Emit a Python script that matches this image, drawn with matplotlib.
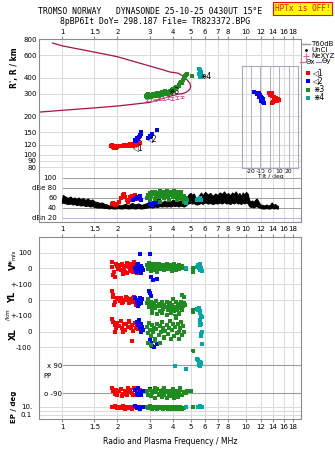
import matplotlib
matplotlib.use('Agg')
import matplotlib.pyplot as plt
from matplotlib.lines import Line2D
from matplotlib.ticker import NullLocator

plt.rcParams['font.family'] = ['DejaVu Sans']

# ------------------------------------------------------------------ data
freq_ticks = [1, 1.5, 2, 3, 4, 5, 6, 7, 8, 10, 12, 14, 16, 18]
freq_ticks_mid = [1, 1.5, 2, 3, 4, 5, 6, 7, 8, 9, 10, 12, 14, 16, 18]
rng_ticks = [800, 600, 400, 300, 200, 150, 120, 100, 90, 80]
db_ticks = [100, 80, 60, 40, 20]
db_labels = ['100', 'dBe 80', '60', '40', 'dBn 20']

# model range curve (upper branch -> loop -> lower branch)
curve_f = [0.89, 1.0, 1.5, 2.0, 3.0, 3.5, 3.86, 4.1, 4.29, 4.5, 4.66, 4.85, 4.96, 5.0, 4.95, 4.86, 4.72, 4.56, 4.2, 3.86, 3.0, 2.0, 1.5, 1.0, 0.75]
curve_r = [744, 708, 632, 582, 492, 462, 442, 437, 432, 415, 399, 375, 360, 339, 325, 316, 307, 301, 295, 286, 256, 240, 232, 222, 215]

# NeXYZ markers
nexyz_f = [2.9, 3.05, 3.2, 3.4, 3.6, 3.75, 3.95, 4.2, 4.47]
nexyz_r = [268, 270, 268, 272, 274, 276, 275, 280, 283]

# echo clusters, virtual range R'
r1_f = [1.85, 1.87, 1.9, 1.92, 1.95, 1.97, 2.0, 2.05, 2.1, 2.13, 2.17, 2.2, 2.24, 2.28, 2.3, 2.33, 2.36, 2.4, 2.43, 2.46, 2.5, 2.53, 2.56, 2.6, 2.63, 2.65, 2.48, 2.38]
r1_r = [117, 119, 115, 113, 116, 112, 114, 117, 118, 116, 119, 117, 118, 120, 117, 121, 119, 122, 118, 121, 123, 120, 125, 122, 126, 124, 119, 116]
r2_f = [2.48, 2.5, 2.52, 2.55, 2.57, 2.6, 2.62, 2.64, 2.66, 2.68, 2.7, 2.95, 3.0, 3.02, 3.05, 3.08, 3.3]
r2_r = [127, 130, 128, 132, 135, 133, 138, 142, 140, 146, 150, 135, 138, 141, 140, 144, 157]
r3_f = [2.85, 2.88, 2.9, 2.95, 3.0, 3.05, 3.1, 3.15, 3.2, 3.25, 3.3, 3.35, 3.4, 3.45, 3.5, 3.55, 3.6, 3.65, 3.7, 3.75, 3.8, 3.85, 3.9, 3.95, 4.0, 4.05, 4.1, 4.15, 4.2, 4.3, 4.35, 4.4, 4.45, 4.5, 4.55, 4.6, 4.65, 4.7, 4.75, 5.1, 2.92, 3.12, 3.28, 3.48, 3.62]
r3_r = [285, 292, 280, 288, 295, 284, 290, 298, 286, 292, 300, 289, 296, 303, 292, 300, 306, 296, 310, 300, 308, 315, 305, 318, 325, 312, 330, 340, 335, 350, 345, 360, 372, 365, 385, 395, 410, 420, 430, 410, 298, 300, 302, 306, 312]
r4_f = [5.55, 5.6, 5.65, 5.58, 5.72, 5.62, 5.78, 5.7]
r4_r = [470, 455, 440, 425, 410, 405, 415, 445]

# echo labels (trace centres)
lab_txt = ['\u25c11', '\u25c12', '\u22c73', '\u22c74']
lab_f = [2.44, 2.89, 3.78, 5.63]
lab_r = [114, 134, 314, 407]

# tilt inset (tilt deg, relative height)
t1_x = [-0.7, 2.8, 0.7, 2.8, 4.6, 7.0, 9.1, 9.8, 7.7, 5.3, 3.5, 2.8, 1.5, 6.0, 8.5, 4.0]
t1_h = [73.2, 73.2, 71.6, 70.6, 69.3, 68.3, 67.6, 66.7, 66.0, 65.7, 64.7, 63.4, 72.4, 68.8, 66.2, 65.2]
t2_x = [-16.5, -14, -11.3, -12.3, -10.5, -8.8, -11.3, -9.8, -7.7, -8.8, -7.0, -6.3, -13.0, -10.0, -8.0]
t2_h = [74.2, 73.8, 73.2, 72.3, 71.3, 69.9, 69.3, 68.3, 67.4, 66.0, 65.0, 64.0, 72.8, 70.5, 68.9]

# noise level (black band) in dB
noise_f = [1.00, 1.01, 1.03, 1.05, 1.08, 1.11, 1.14, 1.17, 1.20, 1.23, 1.26, 1.30, 1.34, 1.38, 1.42, 1.46, 1.50, 1.55, 1.60, 1.65, 1.70, 1.75, 1.80, 1.85, 1.90, 1.95, 2.00, 2.10, 2.20, 2.30, 2.40, 2.50, 2.60, 2.70, 2.80, 2.90, 3.00, 3.10, 3.20, 3.30, 3.40, 3.50, 3.60, 3.70, 3.80, 3.90, 4.00, 4.10, 4.20, 4.30, 4.40, 4.50, 4.60, 4.70, 4.80, 4.90, 5.00, 5.10, 5.20, 5.30, 5.40, 5.50, 5.60, 5.70, 5.80, 5.90, 6.00, 6.20, 6.40, 6.60, 6.80, 7.00, 7.20, 7.40, 7.60, 7.80, 8.00, 8.20, 8.40, 8.60, 8.80, 9.00, 9.20, 9.40, 9.60, 9.80, 10.0, 10.2, 10.4, 10.6, 10.8, 11.0, 11.2, 11.4, 11.6, 11.8, 12.0, 12.3, 12.6, 12.9, 13.2, 13.5, 13.8, 14.1, 14.4, 14.7, 14.9]
noise_hi = [56, 66, 64, 62, 60, 63, 59, 61, 58, 61, 57, 60, 56, 59, 55, 57, 53, 52, 50, 51, 48, 47, 45, 46, 44, 45, 47, 45, 48, 46, 50, 47, 49, 46, 48, 50, 52, 49, 53, 50, 54, 51, 55, 52, 56, 53, 57, 54, 56, 53, 57, 55, 52, 58, 64, 68, 70, 66, 69, 62, 60, 63, 67, 71, 65, 69, 72, 67, 70, 64, 69, 66, 71, 68, 73, 67, 70, 65, 71, 68, 73, 66, 70, 64, 71, 67, 72, 69, 56, 53, 55, 52, 56, 59, 55, 50, 47, 46, 45, 47, 45, 46, 51, 46, 48, 45, 44]
noise_lo = [50, 51, 50, 49, 48, 49, 47, 48, 46, 47, 45, 46, 44, 45, 43, 44, 42, 41, 41, 41, 40, 40, 39, 40, 39, 39, 40, 39, 40, 39, 40, 39, 40, 39, 40, 41, 42, 41, 43, 42, 44, 43, 44, 43, 44, 43, 45, 44, 45, 43, 45, 44, 43, 45, 48, 50, 50, 49, 50, 48, 47, 48, 49, 51, 48, 50, 51, 49, 50, 48, 50, 49, 51, 49, 52, 49, 50, 48, 51, 49, 52, 49, 50, 48, 51, 49, 51, 50, 44, 42, 43, 41, 43, 44, 42, 41, 40, 39, 39, 40, 39, 39, 41, 39, 40, 39, 39]

# echo amplitudes (dB)
a1_f = [1.86, 1.9, 1.94, 1.98, 2.05, 2.1, 2.15, 2.2, 2.25, 2.3, 2.35, 2.4, 2.45, 2.5, 2.55, 2.6, 2.18, 2.28, 2.42, 2.52]
a1_db = [47, 49, 46, 48, 52, 60, 66, 63, 57, 55, 62, 65, 60, 67, 58, 63, 68, 52, 55, 61]
a2_f = [2.42, 2.48, 2.55, 2.6, 2.65, 2.7, 3.0, 3.05, 3.1, 3.2, 3.3, 3.35]
a2_db = [55, 58, 62, 60, 64, 57, 47, 50, 45, 52, 49, 55]
a3_f = [2.9, 2.95, 3.0, 3.05, 3.1, 3.15, 3.2, 3.25, 3.3, 3.35, 3.4, 3.45, 3.5, 3.55, 3.6, 3.65, 3.7, 3.75, 3.8, 3.85, 3.9, 3.95, 4.0, 4.05, 4.1, 4.15, 4.2, 4.25, 4.3, 4.35, 4.4, 4.45, 4.5, 4.6, 4.7, 4.8, 3.0, 3.2, 3.4, 3.6, 3.8, 4.0, 4.2, 4.4, 4.6]
a3_db = [60, 66, 70, 64, 72, 68, 73, 66, 71, 62, 74, 69, 65, 72, 70, 67, 74, 63, 71, 68, 73, 66, 70, 75, 64, 71, 68, 73, 62, 69, 66, 72, 58, 64, 60, 55, 55, 58, 52, 60, 57, 62, 55, 60, 52]
a4_f = [4.7, 5.45, 5.5, 5.55, 5.6, 5.65, 5.7]
a4_db = [50, 57, 59, 56, 60, 58, 57]

# V* (m/s)
v1_f = [1.86, 1.88, 1.9, 1.93, 1.96, 1.99, 2.02, 2.06, 2.1, 2.13, 2.16, 2.2, 2.23, 2.26, 2.3, 2.33, 2.36, 2.4, 2.43, 2.46, 2.5, 2.53, 2.56, 2.6, 2.63, 2.15, 2.25, 2.35, 2.45, 2.55, 1.92, 2.05]
v1_v = [40, 10, -45, -55, 30, 15, -5, 20, -10, 25, 5, -20, 15, -30, 10, 30, -5, 20, -25, 0, 15, -15, 25, -10, 5, -35, 35, -15, 40, -30, -20, 0]
v2_f = [2.48, 2.52, 2.55, 2.58, 2.6, 2.63, 2.66, 2.68, 2.7, 2.72, 2.74, 2.65, 3.0, 3.05, 3.12, 3.3]
v2_v = [5, -20, 20, -5, 30, -15, 10, -30, 15, 0, -10, 90, 88, -55, -75, -65]
v3_f = [2.9, 2.93, 2.96, 3.0, 3.03, 3.06, 3.1, 3.13, 3.16, 3.2, 3.24, 3.28, 3.32, 3.36, 3.4, 3.45, 3.5, 3.55, 3.6, 3.65, 3.7, 3.75, 3.8, 3.85, 3.9, 3.95, 4.0, 4.05, 4.1, 4.15, 4.2, 4.25, 4.3, 4.35, 4.4, 4.45, 4.5, 4.6, 4.7, 5.13, 5.13]
v3_v = [20, -5, 35, 10, -15, 25, 0, 15, -10, 30, 5, -20, 10, 25, -5, 15, 0, 20, -10, 10, 30, -5, 15, 0, 20, -15, 10, 25, 5, -10, 15, 0, 20, -5, 10, 0, 15, 5, -5, 4, -25]
v4_f = [4.7, 5.45, 5.5, 5.55, 5.6, 5.65, 5.7, 5.75, 5.62]
v4_v = [5, 10, 20, 0, 15, -10, 5, -15, 25]

# YL
y1_f = [1.87, 1.9, 1.92, 1.95, 1.98, 2.02, 2.06, 2.1, 2.15, 2.2, 2.25, 2.3, 2.35, 2.4, 2.45, 2.5, 2.55, 2.6, 2.63, 2.12, 2.22, 2.32, 2.42, 2.52, 1.89]
y1_v = [55, 20, -30, -15, 10, 5, -5, 15, -10, 0, 10, -20, 5, -15, 20, -5, -25, 0, -10, -20, 20, -10, 10, -30, 30]
y2_f = [2.5, 2.55, 2.6, 2.63, 2.66, 2.7, 2.73, 2.58, 2.68, 2.98, 3.02, 3.05, 3.0, 3.08]
y2_v = [10, -15, 0, -25, 15, -10, 5, -35, -20, 55, 45, 25, -30, -40]
y3_f = [2.9, 2.93, 2.96, 3.0, 3.04, 3.08, 3.12, 3.16, 3.2, 3.25, 3.3, 3.35, 3.4, 3.45, 3.5, 3.55, 3.6, 3.65, 3.7, 3.75, 3.8, 3.85, 3.9, 3.95, 4.0, 4.05, 4.1, 4.15, 4.2, 4.25, 4.3, 4.35, 4.4, 4.45, 4.5, 4.55, 4.6, 4.65, 4.5, 4.62, 5.13, 5.13, 3.1, 3.3, 3.5, 3.7, 3.9, 4.1, 4.3]
y3_v = [-20, 5, -45, -30, -10, -60, -35, -20, -50, -5, -40, -25, -70, -35, -15, -55, -30, -45, -10, -65, -40, -20, -55, -30, 5, -70, -45, -15, -60, -35, -80, -25, -50, -10, -65, -40, -20, -30, 30, 20, -60, -75, -85, -90, -80, -95, -85, -100, -90]
y4_f = [5.45, 5.55, 5.6, 5.65, 5.7, 5.75, 5.5]
y4_v = [-55, -50, -70, -85, -100, -110, -60]

# XL
x1_f = [1.87, 1.9, 1.93, 1.96, 2.0, 2.04, 2.08, 2.12, 2.16, 2.2, 2.24, 2.28, 2.32, 2.36, 2.4, 2.44, 2.48, 2.52, 2.56, 2.6, 2.64, 2.4, 2.14, 1.95, 2.3]
x1_v = [80, 60, 40, 20, 55, 35, 65, 25, 45, 10, 50, 30, 60, 20, 40, 5, 55, 25, 45, 15, 35, -58, -5, 0, 70]
x2_f = [2.55, 2.6, 2.64, 2.68, 2.72, 2.75, 2.62, 2.7, 3.0, 3.05, 3.1, 3.2, 3.3, 3.15]
x2_v = [60, 40, 20, 50, 30, 10, 75, 0, -55, -75, -90, -60, -80, -95]
x3_f = [2.9, 2.93, 2.96, 3.0, 3.04, 3.08, 3.12, 3.16, 3.2, 3.25, 3.3, 3.35, 3.4, 3.45, 3.5, 3.55, 3.6, 3.65, 3.7, 3.75, 3.8, 3.85, 3.9, 3.95, 4.0, 4.05, 4.1, 4.15, 4.2, 4.25, 4.3, 4.35, 4.4, 4.45, 4.5, 4.55, 4.6, 2.95, 3.05, 3.2, 3.4, 3.6, 5.13]
x3_v = [30, -10, 55, 10, -30, 40, 0, 25, -50, 15, 45, -20, 35, -5, 60, 20, -35, 5, 40, -15, 25, 70, -45, 10, 50, -25, 30, 85, -10, 45, 0, -50, 20, 60, -20, 35, -5, -70, -85, -60, -75, -40, -120]
x4_f = [5.6, 5.65, 5.7, 5.75, 5.68, 5.72, 5.74, 5.62]
x4_v = [75, 60, 45, 0, -15, -30, -80, 40]

# PP (deg)
p1_f = [1.87, 1.9, 1.93, 1.96, 2.0, 2.05, 2.1, 2.15, 2.2, 2.25, 2.3, 2.35, 2.4, 2.45, 2.5, 2.55, 2.6, 2.64, 2.12, 2.28, 2.42, 1.95]
p1_v = [-60, -75, -95, -70, -100, -80, -65, -95, -75, -105, -85, -70, -90, -60, -100, -80, -95, -70, -110, -60, -105, -85]
p2_f = [2.5, 2.55, 2.6, 2.65, 2.7, 2.74, 3.0, 3.1, 3.2, 2.58]
p2_v = [-70, -95, -60, -85, -100, -75, -65, -90, -70, -105]
p3_f = [2.9, 2.95, 3.0, 3.05, 3.1, 3.15, 3.2, 3.25, 3.3, 3.35, 3.4, 3.45, 3.5, 3.55, 3.6, 3.65, 3.7, 3.75, 3.8, 3.85, 3.9, 3.95, 4.0, 4.05, 4.1, 4.15, 4.2, 4.25, 4.3, 4.35, 4.4, 4.5, 4.6, 4.7, 4.8, 5.0, 3.2, 3.6, 4.0, 4.4]
p3_v = [-80, -100, -70, -110, -90, -75, -120, -85, -65, -105, -95, -80, -115, -70, -100, -85, -125, -75, -95, -110, -80, -100, -70, -120, -90, -105, -75, -115, -85, -95, -70, -100, -85, -90, -75, -80, -60, -60, -65, -60]
p4_f = [4.11, 4.7, 5.45, 5.5, 5.6, 5.58, 5.68, 5.62, 5.72, 5.55]
p4_v = [83, 62, 130, 120, 112, 100, 95, 82, 105, 90]

# EP (deg)
e1_f = [1.87, 1.9, 1.95, 2.0, 2.05, 2.1, 2.15, 2.2, 2.25, 2.3, 2.35, 2.4, 2.45, 2.5, 2.55, 2.6, 2.64]
e1_v = [12, 8, 15, 5, 10, 6, 14, 4, 9, 7, 12, 3, 8, 11, 5, 9, 6]
e2_f = [2.5, 2.55, 2.6, 2.65, 2.7, 2.74, 3.0, 3.1]
e2_v = [14, 6, 10, 4, 12, 8, 9, 5]
e3_f = [2.9, 2.95, 3.0, 3.05, 3.1, 3.15, 3.2, 3.25, 3.3, 3.35, 3.4, 3.45, 3.5, 3.55, 3.6, 3.65, 3.7, 3.75, 3.8, 3.85, 3.9, 3.95, 4.0, 4.05, 4.1, 4.15, 4.2, 4.25, 4.3, 4.35, 4.4, 4.5, 4.6, 4.7, 5.13]
e3_v = [10, 5, 14, 7, 3, 11, 6, 9, 4, 13, 8, 5, 10, 3, 7, 12, 6, 4, 9, 5, 11, 3, 8, 6, 10, 4, 7, 3, 9, 5, 8, 4, 6, 10, 12]
e4_f = [4.7, 5.5, 5.55, 5.6, 5.65, 5.7, 5.75]
e4_v = [10, 12, 9, 14, 10, 11, 8]

# ------------------------------------------------------------------ style
W, H = 335, 451
RED, BLUE, GREEN, CYAN = '#ff0000', '#0000ff', '#1e8c1e', '#00a8a8'
PINK, CURVE = '#e8609c', '#a8104a'
GRID, FRAME, DARK, LAV = '#dadada', '#8c8c8c', '#9c9c9c', '#b4b4e8'
FS = 5.0
FMIN, FMAX = 0.75, 19.9
MS = 2.2


def fx(x):
    return x / W


def fy(y):
    return 1 - y / H


def px_rect(top, bottom, left=39, right=301):
    return [left / W, 1 - bottom / H, (right - left) / W, (bottom - top) / H]


fig = plt.figure(figsize=(W / 100, H / 100), dpi=100)
fig.patch.set_facecolor('white')


def setup(ax, ticks=freq_ticks, spines=('left', 'right')):
    ax.set_xscale('log')
    ax.set_xlim(FMIN, FMAX)
    ax.set_xticks(ticks)
    ax.set_xticklabels([f'{t:g}' for t in ticks])
    ax.xaxis.set_minor_locator(NullLocator())
    ax.yaxis.set_minor_locator(NullLocator())
    for s in ('left', 'right', 'top', 'bottom'):
        ax.spines[s].set_visible(s in spines)
        ax.spines[s].set_color(FRAME)
        ax.spines[s].set_linewidth(0.8)
    ax.tick_params(axis='both', labelsize=FS, length=0, pad=1.5, colors='black')
    ax.tick_params(axis='x', labelbottom=False, labeltop=False, bottom=False, top=False)
    for t in freq_ticks:
        ax.axvline(t, color=GRID, lw=0.7, zorder=0)
    ax.set_facecolor('none')


def pts(ax, f, v, c, ms=MS):
    ax.plot(f, v, 's', color=c, ms=ms, mew=0, ls='none', clip_on=False, zorder=3)


# ---------------- R' panel
ax_r = fig.add_axes(px_rect(39, 170))
setup(ax_r, spines=('left', 'right', 'top'))
ax_r.set_yscale('log')
ax_r.yaxis.set_minor_locator(NullLocator())
ax_r.set_ylim(76, 800)
ax_r.set_yticks(rng_ticks)
ax_r.set_yticklabels([str(t) for t in rng_ticks])
ax_r.yaxis.set_minor_locator(NullLocator())
ax_r.tick_params(axis='x', labeltop=True, top=True, length=2, color=FRAME, pad=1)
for t in rng_ticks:
    ax_r.axhline(t, color=GRID, lw=0.7, zorder=0)
ax_r.plot(curve_f, curve_r, '-', color=CURVE, lw=0.9, zorder=2)
ax_r.errorbar(nexyz_f, nexyz_r, yerr=6, fmt='none', ecolor=PINK, elinewidth=0.7, capsize=1.2, capthick=0.7, zorder=2)
pts(ax_r, r1_f, r1_r, RED)
pts(ax_r, r2_f, r2_r, BLUE)
pts(ax_r, r3_f, r3_r, GREEN)
pts(ax_r, r4_f, r4_r, CYAN)
for t, f, r in zip(lab_txt, lab_f, lab_r):
    ax_r.text(f, r, t, fontsize=5.5, color='black', ha='left', va='center', zorder=5)
fig.text(fx(14), fy(68), "R', R / km", rotation=90, ha='center', va='center', fontsize=5.5, fontweight='bold')

# ---------------- tilt inset
ax_t = fig.add_axes(px_rect(66, 168, 242, 298))
ax_t.set_facecolor('none')
ax_t.set_xlim(-29.3, 29.7)
ax_t.set_ylim(0, 100)
ax_t.set_yticks([])
ax_t.set_xticks([-20, -10, 0, 10, 20])
ax_t.set_xticklabels(['-20', '-10', '0', '10', '20'])
ax_t.tick_params(axis='x', labelsize=4.3, length=0, pad=0.5)
ax_t.grid(True, axis='x', color='#b0b0c4', lw=0.7)
for s in ax_t.spines.values():
    s.set_color('#a8a8bc')
    s.set_linewidth(0.8)
ax_t.set_xlabel('Tilt / deg', fontsize=4.3, labelpad=0)
pts(ax_t, t1_x, t1_h, RED, ms=2.4)
pts(ax_t, t2_x, t2_h, BLUE, ms=2.4)

# ---------------- dB panel
ax_d = fig.add_axes(px_rect(170, 222))
setup(ax_d, ticks=freq_ticks_mid, spines=('left', 'right', 'bottom'))
ax_d.set_ylim(12, 116)
ax_d.set_yticks(db_ticks)
ax_d.set_yticklabels(db_labels)
ax_d.tick_params(axis='y', pad=-13)
ax_d.tick_params(axis='x', labelbottom=True, pad=3)
for t in db_ticks:
    ax_d.axhline(t, color=(LAV if t == 20 else DARK), lw=0.7, zorder=0.5, xmin=0.09)
ax_d.fill_between(noise_f, noise_lo, noise_hi, color='black', lw=0.8, zorder=2)
pts(ax_d, a1_f, a1_db, RED)
pts(ax_d, a2_f, a2_db, BLUE)
pts(ax_d, a3_f, a3_db, GREEN)
pts(ax_d, a4_f, a4_db, CYAN)

# ---------------- lower stack
ax_vs = fig.add_axes(px_rect(237, 284.3))
setup(ax_vs, spines=('left', 'right', 'top'))
ax_vs.set_ylim(-100.8, 198.5)
ax_vs.set_yticks([100, 0])
ax_vs.set_yticklabels(['100', '0'])
ax_vs.tick_params(axis='y', pad=5)
ax_vs.tick_params(axis='x', top=True, length=2.5, color=FRAME)
for t in [100, 0]:
    ax_vs.axhline(t, color=GRID, lw=0.7, zorder=0)
pts(ax_vs, v1_f, v1_v, RED)
pts(ax_vs, v2_f, v2_v, BLUE)
pts(ax_vs, v3_f, v3_v, GREEN)
pts(ax_vs, v4_f, v4_v, CYAN)

ax_yl = fig.add_axes(px_rect(284.3, 315.8))
setup(ax_yl)
ax_yl.set_ylim(-100, 100)
ax_yl.set_yticks([100, 0, -100])
ax_yl.set_yticklabels(['+-100', '0', '+-100'])
ax_yl.tick_params(axis='y', pad=5)
for t in [100, 0, -100]:
    ax_yl.axhline(t, color=GRID, lw=0.7, zorder=0)
pts(ax_yl, y1_f, y1_v, RED)
pts(ax_yl, y2_f, y2_v, BLUE)
pts(ax_yl, y3_f, y3_v, GREEN)
pts(ax_yl, y4_f, y4_v, CYAN)

ax_xl = fig.add_axes(px_rect(315.8, 352))
setup(ax_xl)
ax_xl.set_ylim(-129.5, 100)
ax_xl.set_yticks([0, -100])
ax_xl.set_yticklabels(['0', '-100'])
ax_xl.tick_params(axis='y', pad=5)
for t in [0, -100]:
    ax_xl.axhline(t, color=GRID, lw=0.7, zorder=0)
pts(ax_xl, x1_f, x1_v, RED)
pts(ax_xl, x2_f, x2_v, BLUE)
pts(ax_xl, x3_f, x3_v, GREEN)
pts(ax_xl, x4_f, x4_v, CYAN)

ax_pp = fig.add_axes(px_rect(352, 401))
setup(ax_pp)
ax_pp.set_ylim(-141.4, 173.6)
ax_pp.set_yticks([90, -90])
ax_pp.set_yticklabels(['x 90', 'o -90'])
ax_pp.tick_params(axis='y', pad=-16.5)
for t in [90, -90]:
    ax_pp.axhline(t, color=DARK, lw=0.8, zorder=0.5, xmin=0.092)
ax_pp.text(0.016, 0.5, 'PP', transform=ax_pp.transAxes, fontsize=FS, ha='left', va='center')
pts(ax_pp, p1_f, p1_v, RED)
pts(ax_pp, p2_f, p2_v, BLUE)
pts(ax_pp, p3_f, p3_v, GREEN)
pts(ax_pp, p4_f, p4_v, CYAN)

ax_ep = fig.add_axes(px_rect(401, 419))
setup(ax_ep, spines=('left', 'right', 'bottom'))
ax_ep.set_yscale('log')
ax_ep.yaxis.set_minor_locator(NullLocator())
ax_ep.set_ylim(0.01, 316)
ax_ep.set_yticks([10, 0.1])
ax_ep.set_yticklabels(['10.', '0.1'])
ax_ep.yaxis.set_minor_locator(NullLocator())
ax_ep.tick_params(axis='y', pad=5)
ax_ep.tick_params(axis='x', labelbottom=True, bottom=True, length=2, color=FRAME, pad=1.5)
for t in [10, 1, 0.1]:
    ax_ep.axhline(t, color=GRID, lw=0.7, zorder=0)
pts(ax_ep, e1_f, e1_v, RED)
pts(ax_ep, e2_f, e2_v, BLUE)
pts(ax_ep, e3_f, e3_v, GREEN)
pts(ax_ep, e4_f, e4_v, CYAN)

ax_ep.set_xlabel('Radio and Plasma Frequency / MHz', fontsize=5.5, labelpad=5)

# left labels of lower stack
fig.text(fx(13), fy(265), 'V*', rotation=90, ha='center', va='center', fontsize=6, fontweight='bold')
fig.text(fx(13), fy(255), 'm/s', rotation=90, ha='center', va='center', fontsize=4)
fig.text(fx(13), fy(297), 'YL', rotation=90, ha='center', va='center', fontsize=6, fontweight='bold')
fig.text(fx(8.5), fy(315), '/km', rotation=90, ha='center', va='center', fontsize=4)
fig.text(fx(13), fy(334), 'XL', rotation=90, ha='center', va='center', fontsize=6, fontweight='bold')
fig.text(fx(14), fy(407), 'EP / deg', rotation=90, ha='center', va='center', fontsize=5, fontweight='bold')

# ---------------- titles
MONO = 'DejaVu Sans Mono'
fig.text(fx(150), fy(12), 'TROMSO NORWAY   DYNASONDE 25-10-25 0430UT 15\u00b0E', family=MONO,
         fontsize=5.9, ha='center', va='center')
fig.text(fx(155), fy(21), '8pBP6It DoY= 298.187 File= TR823372.BPG', family=MONO,
         fontsize=5.9, ha='center', va='center')
fig.text(fx(302.5), fy(8.5), 'HPTx is OFF!', family=MONO, fontsize=5.6, color='red', ha='center',
         va='center', bbox=dict(boxstyle='square,pad=0.25', fc='#ffff00', ec='red', lw=0.8))

# ---------------- legend (right margin)
fig.add_artist(Line2D([fx(302), fx(310)], [fy(43.5)] * 2, color='#9a9a9a', lw=1.0))
fig.text(fx(311), fy(43.5), 'T60dB', fontsize=FS, ha='left', va='center')
fig.add_artist(Line2D([fx(306)], [fy(49.5)], marker='.', color='black', ms=2, ls='none'))
fig.text(fx(311), fy(49.5), 'UnCl', fontsize=FS, ha='left', va='center')
fig.add_artist(Line2D([fx(306)], [fy(55.5)], marker='+', color=PINK, ms=4, mew=0.8, ls='none'))
fig.text(fx(311), fy(55.5), 'NeXYZ', fontsize=FS, ha='left', va='center')
fig.add_artist(Line2D([fx(300), fx(305)], [fy(61.5)] * 2, color=PINK, lw=0.9))
fig.text(fx(305.5), fy(61.5), '\u0398x', fontsize=FS, ha='left', va='center')
fig.add_artist(Line2D([fx(316), fx(321)], [fy(61.5)] * 2, color='#8080e0', lw=0.9))
fig.text(fx(321.5), fy(61.5), '\u0398y', fontsize=FS, ha='left', va='center')
for i, (c, t) in enumerate(zip([RED, BLUE, GREEN, CYAN], lab_txt)):
    yy = 72.5 + i * 8.5
    fig.add_artist(Line2D([fx(308)], [fy(yy)], marker='s', color=c, ms=2.6, mew=0, ls='none'))
    fig.text(fx(313), fy(yy), t, fontsize=5.5, ha='left', va='center')

fig.savefig('out.png', dpi=100, facecolor='white')
